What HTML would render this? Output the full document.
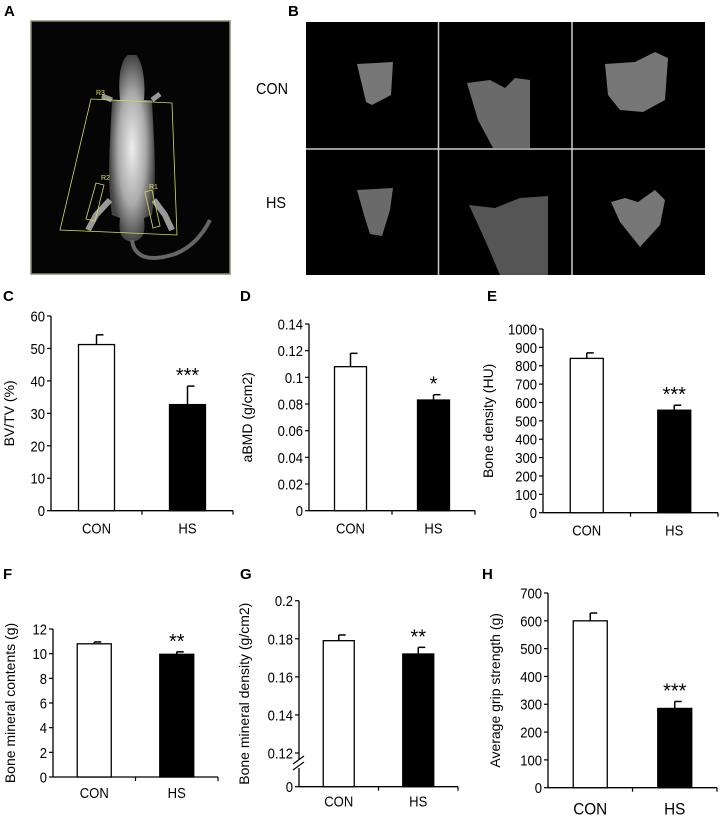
<!DOCTYPE html>
<html><head><meta charset="utf-8">
<style>
html,body{margin:0;padding:0;background:#fff;}
svg{display:block;font-family:"Liberation Sans",Arial,sans-serif;}
</style></head>
<body>
<svg id="fig" width="720" height="818" viewBox="0 0 720 818">
  <defs>
    <radialGradient id="bodyg" cx="50%" cy="50%" r="50%">
      <stop offset="0" stop-color="#eee"/><stop offset="0.6" stop-color="#aaa"/><stop offset="1" stop-color="#444"/>
    </radialGradient>
  </defs>
  <!-- Panel A -->
  <text x="4" y="16" font-size="15" font-weight="bold">A</text>
  <g>
    <rect x="31" y="21" width="199" height="253" fill="#050505" stroke="#8a8a70" stroke-width="1.5"/>
    <path d="M128 55 C120 60 118 80 120 100 L112 100 L110 140 C108 180 110 200 112 215 L120 218 C118 235 122 240 132 242 C142 240 146 235 144 218 L152 215 C154 200 156 180 154 140 L152 100 L144 100 C146 80 142 60 136 55 Z" fill="url(#bodyg)"/>
    <path d="M132 240 C134 258 150 262 175 254 C195 246 205 230 210 220" stroke="#666" stroke-width="4" fill="none"/>
    <path d="M110 200 L96 215 L88 230 M154 200 L165 215 L172 230" stroke="#999" stroke-width="6" fill="none"/>
    <path d="M112 100 L102 96 M152 100 L160 94" stroke="#999" stroke-width="5"/>
    <polygon points="91,99 172,103 177,235 60,230" fill="none" stroke="#d8d860" stroke-width="0.8"/>
    <polygon points="96,183 104,185 95,221 86,219" fill="none" stroke="#d8d860" stroke-width="0.8"/>
    <polygon points="145,192 152,190 160,226 153,228" fill="none" stroke="#d8d860" stroke-width="0.8"/>
    <text x="96" y="95" font-size="7" fill="#e0e060">R3</text>
    <text x="101" y="180" font-size="7" fill="#e0e060">R2</text>
    <text x="149" y="189" font-size="7" fill="#e0e060">R1</text>
  </g>
  <!-- Panel B -->
  <text x="288" y="16" font-size="15" font-weight="bold">B</text>
  <text x="256" y="94" font-size="16" transform="translate(256 0) scale(0.9 1) translate(-256 0)">CON</text>
  <text x="266" y="208" font-size="16" transform="translate(266 0) scale(0.9 1) translate(-266 0)">HS</text>
  <g>
    <rect x="306" y="22" width="399" height="253" fill="#000"/>
    <line x1="438.5" y1="22" x2="438.5" y2="275" stroke="#ccc" stroke-width="1.5"/>
    <line x1="572" y1="22" x2="572" y2="275" stroke="#ccc" stroke-width="1.5"/>
    <line x1="306" y1="149" x2="705" y2="149" stroke="#ccc" stroke-width="1.5"/>
    <path d="M357 64 L393 62 L391 95 L372 105 L366 102 Z" fill="#777"/>
    <path d="M467 83 L490 80 L505 88 L515 78 L530 80 L530 148 L493 148 L478 120 Z" fill="#6a6a6a"/>
    <path d="M605 64 L635 62 L655 52 L668 58 L665 100 L643 112 L620 110 L608 95 Z" fill="#777"/>
    <path d="M357 190 L393 188 L390 210 L382 236 L370 234 L364 215 Z" fill="#6a6a6a"/>
    <path d="M469 205 L495 208 L520 198 L548 196 L548 275 L500 275 L485 240 Z" fill="#555"/>
    <path d="M611 202 L625 198 L638 202 L655 190 L665 200 L660 225 L640 247 L620 222 Z" fill="#777"/>
  </g>
  <g id="charts"></g>
</svg>
<script>
// Panel C
const catsC = ["CON","HS"];
const valsC = [51.2, 32.7];
const errC = [54.2, 38.4];
const ticksC = ["0","10","20","30","40","50","60"];
// Panel D
const catsD = ["CON","HS"];
const valsD = [0.108, 0.083];
const errD = [0.118, 0.087];
const ticksD = ["0","0.02","0.04","0.06","0.08","0.1","0.12","0.14"];
// Panel E
const catsE = ["CON","HS"];
const valsE = [840, 558];
const errE = [870, 585];
const ticksE = ["0","100","200","300","400","500","600","700","800","900","1000"];
// Panel F
const catsF = ["CON","HS"];
const valsF = [10.8, 9.95];
const errF = [10.95, 10.15];
const ticksF = ["0","2","4","6","8","10","12"];
// Panel G (broken axis 0 | 0.12-0.2)
const catsG = ["CON","HS"];
const valsG = [0.179, 0.172];
const errG = [0.182, 0.1755];
const ticksG = ["0","0.12","0.14","0.16","0.18","0.2"];
// Panel H
const catsH = ["CON","HS"];
const valsH = [600, 285];
const errH = [628, 310];
const ticksH = ["0","100","200","300","400","500","600","700"];
const starsC = "***", starsD = "*", starsE = "***", starsF = "**", starsG = "**", starsH = "***";

const NS = "http://www.w3.org/2000/svg";
const root = document.getElementById("charts");
function mk(tag, attrs, parent){const e=document.createElementNS(NS,tag);for(const k in attrs)e.setAttribute(k,attrs[k]);(parent||root).appendChild(e);return e;}

function panel(o){
  const g = mk("g",{});
  
  
  const y = v => o.y0 - (v - o.vmin)/(o.vmax - o.vmin)*(o.y0 - o.y1);
  const yy = o.ymap || y;
  const L = mk("text",{x:o.lx,y:o.ly,"font-size":15,"font-weight":"bold"},g); L.textContent=o.letter;
  
  
  const ax = mk("line",{x1:o.ax,y1:o.y1,x2:o.ax,y2:o.y0,stroke:"#000","stroke-width":1.3},g);
  
  
  o.ticks.forEach(t=>{
    const ty = yy(parseFloat(t));
    mk("line",{x1:o.ax-4,y1:ty,x2:o.ax,y2:ty,stroke:"#000","stroke-width":1.2},g);
    const lx = o.ax-6;
    const tl = mk("text",{x:lx,y:ty+5.5,"font-size":14.5,"text-anchor":"end",transform:`translate(${lx} 0) scale(0.9 1) translate(${-lx} 0)`},g); tl.textContent=t;
    
    
  });
  const xa = mk("line",{x1:o.ax,y1:o.y0,x2:o.xend,y2:o.y0,stroke:"#000","stroke-width":1.3},g);
  
  
  const slot = (o.xend - o.ax)/o.cats.length;
  for(let i=1;i<=o.cats.length;i++){mk("line",{x1:o.ax+slot*i,y1:o.y0,x2:o.ax+slot*i,y2:o.y0+4,stroke:"#000","stroke-width":1.2},g);}
  o.cats.forEach((c,i)=>{
    const cx = o.ax + slot*(i+0.5);
    const bw = o.bw;
    const top = yy(o.vals[i]);
    const et = yy(o.err[i]);
    const el = mk("line",{x1:cx,y1:top,x2:cx,y2:et,stroke:"#000","stroke-width":1.5},g);
    
    
    mk("line",{x1:cx,y1:et,x2:cx+7,y2:et,stroke:"#000","stroke-width":1.5},g);
    const b = mk("rect",{x:cx-bw/2,y:top,width:bw,height:o.y0-top,fill:i==0?"#fff":"#000",stroke:"#000","stroke-width":1.3},g);
    
    
    const xl = mk("text",{x:cx,y:o.y0+o.xlOff,"font-size":o.xfs,"text-anchor":"middle",transform:`translate(${cx} 0) scale(0.9 1) translate(${-cx} 0)`},g); xl.textContent=c;
    
    
    if(i==1){
      const s = mk("text",{x:cx,y:et-4,"font-size":20,"text-anchor":"middle"},g); s.textContent=o.stars;
      
      
    }
  });
  const midY = (o.y0+o.y1)/2;
  const t = mk("text",{x:0,y:0,"font-size":14,"text-anchor":"middle",transform:`translate(${o.tx},${midY}) rotate(-90)`},g);
  t.textContent=o.title;
  
  
  return g;
}

panel({name:"chart-c",letter:"C",lx:3,ly:301,ax:51,xend:233,y0:510.7,y1:316,vmin:0,vmax:60,ticks:ticksC,cats:catsC,vals:valsC,err:errC,bw:36,stars:starsC,title:"BV/TV (%)",tx:14,xlOff:23,xfs:14.5});
panel({name:"chart-d",letter:"D",lx:240,ly:301,ax:309,xend:475,y0:510.7,y1:324,vmin:0,vmax:0.14,ticks:ticksD,cats:catsD,vals:valsD,err:errD,bw:32,stars:starsD,title:"aBMD (g/cm2)",tx:252,xlOff:23,xfs:14.5});
panel({name:"chart-e",letter:"E",lx:487,ly:301,ax:543,xend:718,y0:512.7,y1:329,vmin:0,vmax:1000,ticks:ticksE,cats:catsE,vals:valsE,err:errE,bw:33,stars:starsE,title:"Bone density (HU)",tx:493,xlOff:23,xfs:14.5});
panel({name:"chart-f",letter:"F",lx:3,ly:579,ax:53,xend:218,y0:777,y1:629,vmin:0,vmax:12,ticks:ticksF,cats:catsF,vals:valsF,err:errF,bw:34,stars:starsF,title:"Bone mineral contents (g)",tx:15,xlOff:21,xfs:14.5});
const gY0 = 786.7, gY12 = 753, gY20 = 600.7;
const gmap = v => v <= 0 ? gY0 : (v < 0.12 ? gY0 - (v/0.12)*(gY0-gY12) : gY12 - (v-0.12)/0.08*(gY12-gY20));
const gG = panel({name:"chart-g",letter:"G",lx:240,ly:579,ax:299,xend:458,y0:gY0,y1:gY20,vmin:0,vmax:0.2,ymap:gmap,ticks:ticksG,cats:catsG,vals:valsG,err:errG,bw:31,stars:starsG,title:"Bone mineral density (g/cm2)",tx:249,xlOff:20,xfs:14.5});
const br = mk("rect",{x:292,y:760,width:14,height:8,fill:"#fff"},gG);


mk("line",{x1:293,y1:764,x2:304,y2:756,stroke:"#000","stroke-width":1.2},gG);
mk("line",{x1:293,y1:770,x2:304,y2:762,stroke:"#000","stroke-width":1.2},gG);
panel({name:"chart-h",letter:"H",lx:482,ly:579,ax:548,xend:717,y0:787.7,y1:593,vmin:0,vmax:700,ticks:ticksH,cats:catsH,vals:valsH,err:errH,bw:34,stars:starsH,title:"Average grip strength (g)",tx:500,xlOff:27,xfs:17});
</script>
</body></html>
